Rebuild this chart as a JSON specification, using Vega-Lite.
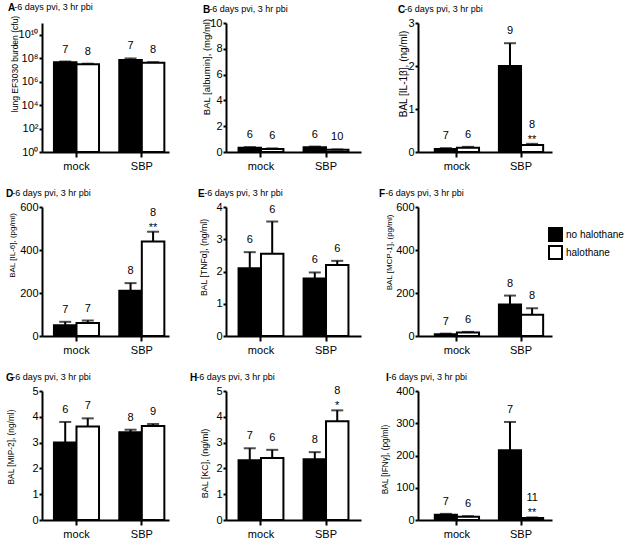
{
  "$schema": "https://vega.github.io/schema/vega-lite/v6.json",
  "background": "white",
  "padding": {"left": 5, "top": 3, "right": 5, "bottom": 2},
  "config": {
    "view": {"stroke": null},
    "font": "Liberation Sans",
    "axis": {"domainColor": "black", "domainWidth": 2, "tickColor": "black", "tickWidth": 2, "tickSize": 3, "labelColor": "black", "labelFontSize": 11, "labelFont": "Liberation Sans", "labelPadding": 1, "labelOverlap": false, "labelBound": false, "titleColor": "black", "titleFontWeight": "normal", "titleFontSize": 9, "titleFont": "Liberation Sans", "grid": false, "titleAlign": "center", "titleBaseline": "bottom", "titleAngle": -90},
    "axisX": {"labelAngle": 0, "labelPadding": 3, "tickSize": 5, "titleAngle": 0},
    "title": {"anchor": "start", "frame": "group", "fontSize": 10, "fontWeight": "bold", "font": "Liberation Sans", "color": "black", "subtitleFont": "Liberation Sans", "subtitleFontSize": 9, "subtitleColor": "black", "subtitlePadding": -10, "offset": 0, "dy": 2},
    "text": {"font": "Liberation Sans", "fontSize": 11, "color": "black"}
  },
  "data": {"values": [
    {"panel": "A", "group": "mock", "treat": "no halothane", "mean": 45000000, "top": 52000000, "n": "7", "star": ""},
    {"panel": "A", "group": "mock", "treat": "halothane", "mean": 30000000, "top": 34000000, "n": "8", "star": ""},
    {"panel": "A", "group": "SBP", "treat": "no halothane", "mean": 70000000, "top": 95000000, "n": "7", "star": ""},
    {"panel": "A", "group": "SBP", "treat": "halothane", "mean": 40000000, "top": 46000000, "n": "8", "star": ""},
    {"panel": "B", "group": "mock", "treat": "no halothane", "mean": 0.33, "top": 0.38, "n": "6", "star": ""},
    {"panel": "B", "group": "mock", "treat": "halothane", "mean": 0.24, "top": 0.28, "n": "6", "star": ""},
    {"panel": "B", "group": "SBP", "treat": "no halothane", "mean": 0.37, "top": 0.42, "n": "6", "star": ""},
    {"panel": "B", "group": "SBP", "treat": "halothane", "mean": 0.17, "top": 0.2, "n": "10", "star": ""},
    {"panel": "C", "group": "mock", "treat": "no halothane", "mean": 0.07, "top": 0.09, "n": "7", "star": ""},
    {"panel": "C", "group": "mock", "treat": "halothane", "mean": 0.1, "top": 0.12, "n": "6", "star": ""},
    {"panel": "C", "group": "SBP", "treat": "no halothane", "mean": 2.0, "top": 2.53, "n": "9", "star": ""},
    {"panel": "C", "group": "SBP", "treat": "halothane", "mean": 0.16, "top": 0.19, "n": "8", "star": "**"},
    {"panel": "D", "group": "mock", "treat": "no halothane", "mean": 50, "top": 66, "n": "7", "star": ""},
    {"panel": "D", "group": "mock", "treat": "halothane", "mean": 60, "top": 72, "n": "7", "star": ""},
    {"panel": "D", "group": "SBP", "treat": "no halothane", "mean": 210, "top": 246, "n": "8", "star": ""},
    {"panel": "D", "group": "SBP", "treat": "halothane", "mean": 440, "top": 485, "n": "8", "star": "**"},
    {"panel": "E", "group": "mock", "treat": "no halothane", "mean": 2.1, "top": 2.6, "n": "6", "star": ""},
    {"panel": "E", "group": "mock", "treat": "halothane", "mean": 2.55, "top": 3.55, "n": "6", "star": ""},
    {"panel": "E", "group": "SBP", "treat": "no halothane", "mean": 1.78, "top": 1.97, "n": "6", "star": ""},
    {"panel": "E", "group": "SBP", "treat": "halothane", "mean": 2.2, "top": 2.33, "n": "6", "star": ""},
    {"panel": "F", "group": "mock", "treat": "no halothane", "mean": 8, "top": 11, "n": "7", "star": ""},
    {"panel": "F", "group": "mock", "treat": "halothane", "mean": 16, "top": 19, "n": "6", "star": ""},
    {"panel": "F", "group": "SBP", "treat": "no halothane", "mean": 147, "top": 188, "n": "8", "star": ""},
    {"panel": "F", "group": "SBP", "treat": "halothane", "mean": 99, "top": 129, "n": "8", "star": ""},
    {"panel": "G", "group": "mock", "treat": "no halothane", "mean": 3.0, "top": 3.8, "n": "6", "star": ""},
    {"panel": "G", "group": "mock", "treat": "halothane", "mean": 3.62, "top": 3.94, "n": "7", "star": ""},
    {"panel": "G", "group": "SBP", "treat": "no halothane", "mean": 3.4, "top": 3.5, "n": "8", "star": ""},
    {"panel": "G", "group": "SBP", "treat": "halothane", "mean": 3.64, "top": 3.72, "n": "9", "star": ""},
    {"panel": "H", "group": "mock", "treat": "no halothane", "mean": 2.32, "top": 2.78, "n": "7", "star": ""},
    {"panel": "H", "group": "mock", "treat": "halothane", "mean": 2.4, "top": 2.72, "n": "6", "star": ""},
    {"panel": "H", "group": "SBP", "treat": "no halothane", "mean": 2.35, "top": 2.63, "n": "8", "star": ""},
    {"panel": "H", "group": "SBP", "treat": "halothane", "mean": 3.83, "top": 4.25, "n": "8", "star": "*"},
    {"panel": "I", "group": "mock", "treat": "no halothane", "mean": 16, "top": 19, "n": "7", "star": ""},
    {"panel": "I", "group": "mock", "treat": "halothane", "mean": 10, "top": 12, "n": "6", "star": ""},
    {"panel": "I", "group": "SBP", "treat": "no halothane", "mean": 216, "top": 304, "n": "7", "star": ""},
    {"panel": "I", "group": "SBP", "treat": "halothane", "mean": 6, "top": 8, "n": "11", "star": "**"}
  ]},
  "columns": 3,
  "spacing": {"row": 55, "column": 57},
  "bounds": "flush",
  "align": "each",
  "resolve": {"scale": {"fill": "independent", "xOffset": "independent"}, "legend": {"fill": "independent"}},
  "concat": [
    {
      "width": 127, "height": 129,
      "title": {"text": "A", "subtitle": "\u200b\u2002\u2009-6 days pvi, 3 hr pbi", "dx": -34},
      "transform": [{"filter": "datum.panel == 'A'"}],
      "encoding": {
        "x": {"field": "group", "type": "nominal", "sort": ["mock", "SBP"], "scale": {"paddingInner": 0.31, "paddingOuter": 0.127, "align": 0.72}, "axis": {"title": null}},
        "xOffset": {"field": "treat", "type": "nominal", "sort": ["no halothane", "halothane"]}
      },
      "layer": [
        {"mark": {"type": "bar", "stroke": "black", "strokeWidth": 2},
         "encoding": {
           "y": {"field": "mean", "type": "quantitative", "scale": {"type": "log", "domain": [1, 100000000000], "nice": false}, "axis": {"title": "lung EF3030 burden (cfu)", "tickCount": 20, "labelOverlap": false, "titleFontSize": 8.5, "titleX": -23, "titleY": 40.5, "values": [1, 100, 10000, 1000000, 100000000, 10000000000], "labelExpr": "datum.value >= 1e10 ? '10\u00b9\u2070' : datum.value >= 1e8 ? '10\u2078' : datum.value >= 1e6 ? '10\u2076' : datum.value >= 1e4 ? '10\u2074' : datum.value >= 100 ? '10\u00b2' : '10\u2070'"}},
           "y2": {"datum": 1},
           "fill": {"field": "treat", "type": "nominal", "scale": {"domain": ["no halothane", "halothane"], "range": ["black", "white"]}, "legend": null}
         }},
        {"mark": {"type": "rule", "strokeWidth": 2, "color": "black"}, "encoding": {"y": {"field": "mean", "type": "quantitative"}, "y2": {"field": "top"}}},
        {"mark": {"type": "tick", "thickness": 2, "size": 12, "color": "black"}, "encoding": {"y": {"field": "top", "type": "quantitative"}}},
        {"transform": [{"filter": "datum.star == ''"}], "mark": {"type": "text", "dy": -12, "baseline": "middle"}, "encoding": {"y": {"field": "top", "type": "quantitative"}, "text": {"field": "n"}}},
        {"transform": [{"filter": "datum.star != ''"}], "mark": {"type": "text", "dy": -19, "baseline": "middle"}, "encoding": {"y": {"field": "top", "type": "quantitative"}, "text": {"field": "n"}}},
        {"transform": [{"filter": "datum.star != ''"}], "mark": {"type": "text", "dy": -4, "baseline": "middle"}, "encoding": {"y": {"field": "top", "type": "quantitative"}, "text": {"field": "star"}}}
      ]
    },
    {
      "width": 135, "height": 129,
      "title": {"text": "B", "subtitle": "\u200b\u2002\u2009-6 days pvi, 3 hr pbi", "dx": -23},
      "transform": [{"filter": "datum.panel == 'B'"}],
      "encoding": {
        "x": {"field": "group", "type": "nominal", "sort": ["mock", "SBP"], "scale": {"paddingInner": 0.31, "paddingOuter": 0.193, "align": 0.5}, "axis": {"title": null}},
        "xOffset": {"field": "treat", "type": "nominal", "sort": ["no halothane", "halothane"]}
      },
      "layer": [
        {"mark": {"type": "bar", "stroke": "black", "strokeWidth": 2},
         "encoding": {
           "y": {"field": "mean", "type": "quantitative", "scale": {"domain": [0, 10], "nice": false}, "axis": {"title": "BAL [albumin], (mg/ml)", "format": "d", "tickCount": 20, "labelOverlap": false, "titleFontSize": 9.5, "titleX": -15, "titleY": 43.5, "values": [0, 2, 4, 6, 8, 10]}},
           "fill": {"field": "treat", "type": "nominal", "scale": {"domain": ["no halothane", "halothane"], "range": ["black", "white"]}, "legend": null}
         }},
        {"mark": {"type": "rule", "strokeWidth": 2, "color": "black"}, "encoding": {"y": {"field": "mean", "type": "quantitative"}, "y2": {"field": "top"}}},
        {"mark": {"type": "tick", "thickness": 2, "size": 12, "color": "black"}, "encoding": {"y": {"field": "top", "type": "quantitative"}}},
        {"transform": [{"filter": "datum.star == ''"}], "mark": {"type": "text", "dy": -12, "baseline": "middle"}, "encoding": {"y": {"field": "top", "type": "quantitative"}, "text": {"field": "n"}}},
        {"transform": [{"filter": "datum.star != ''"}], "mark": {"type": "text", "dy": -19, "baseline": "middle"}, "encoding": {"y": {"field": "top", "type": "quantitative"}, "text": {"field": "n"}}},
        {"transform": [{"filter": "datum.star != ''"}], "mark": {"type": "text", "dy": -4, "baseline": "middle"}, "encoding": {"y": {"field": "top", "type": "quantitative"}, "text": {"field": "star"}}}
      ]
    },
    {
      "width": 134, "height": 129,
      "title": {"text": "C", "subtitle": "\u200b\u2002\u2009-6 days pvi, 3 hr pbi", "dx": -20},
      "transform": [{"filter": "datum.panel == 'C'"}],
      "encoding": {
        "x": {"field": "group", "type": "nominal", "sort": ["mock", "SBP"], "scale": {"paddingInner": 0.31, "paddingOuter": 0.2, "align": 0.655}, "axis": {"title": null}},
        "xOffset": {"field": "treat", "type": "nominal", "sort": ["no halothane", "halothane"]}
      },
      "layer": [
        {"mark": {"type": "bar", "stroke": "black", "strokeWidth": 2},
         "encoding": {
           "y": {"field": "mean", "type": "quantitative", "scale": {"domain": [0, 3], "nice": false}, "axis": {"title": "BAL [IL-1\u03b2], (ng/ml)", "format": "d", "tickCount": 20, "labelOverlap": false, "titleFontSize": 10, "titleX": -10, "titleY": 50.5, "values": [0, 1, 2, 3]}},
           "fill": {"field": "treat", "type": "nominal", "scale": {"domain": ["no halothane", "halothane"], "range": ["black", "white"]}, "legend": null}
         }},
        {"mark": {"type": "rule", "strokeWidth": 2, "color": "black"}, "encoding": {"y": {"field": "mean", "type": "quantitative"}, "y2": {"field": "top"}}},
        {"mark": {"type": "tick", "thickness": 2, "size": 12, "color": "black"}, "encoding": {"y": {"field": "top", "type": "quantitative"}}},
        {"transform": [{"filter": "datum.star == ''"}], "mark": {"type": "text", "dy": -12, "baseline": "middle"}, "encoding": {"y": {"field": "top", "type": "quantitative"}, "text": {"field": "n"}}},
        {"transform": [{"filter": "datum.star != ''"}], "mark": {"type": "text", "dy": -19, "baseline": "middle"}, "encoding": {"y": {"field": "top", "type": "quantitative"}, "text": {"field": "n"}}},
        {"transform": [{"filter": "datum.star != ''"}], "mark": {"type": "text", "dy": -4, "baseline": "middle"}, "encoding": {"y": {"field": "top", "type": "quantitative"}, "text": {"field": "star"}}}
      ]
    },
    {
      "width": 127, "height": 129,
      "title": {"text": "D", "subtitle": "\u200b\u2002\u2009-6 days pvi, 3 hr pbi", "dx": -36},
      "transform": [{"filter": "datum.panel == 'D'"}],
      "encoding": {
        "x": {"field": "group", "type": "nominal", "sort": ["mock", "SBP"], "scale": {"paddingInner": 0.31, "paddingOuter": 0.127, "align": 0.72}, "axis": {"title": null}},
        "xOffset": {"field": "treat", "type": "nominal", "sort": ["no halothane", "halothane"]}
      },
      "layer": [
        {"mark": {"type": "bar", "stroke": "black", "strokeWidth": 2},
         "encoding": {
           "y": {"field": "mean", "type": "quantitative", "scale": {"domain": [0, 600], "nice": false}, "axis": {"title": "BAL [IL-6], (pg/ml)", "format": "d", "tickCount": 20, "labelOverlap": false, "titleFontSize": 8, "titleX": -26, "titleY": 38, "values": [0, 200, 400, 600]}},
           "fill": {"field": "treat", "type": "nominal", "scale": {"domain": ["no halothane", "halothane"], "range": ["black", "white"]}, "legend": null}
         }},
        {"mark": {"type": "rule", "strokeWidth": 2, "color": "black"}, "encoding": {"y": {"field": "mean", "type": "quantitative"}, "y2": {"field": "top"}}},
        {"mark": {"type": "tick", "thickness": 2, "size": 12, "color": "black"}, "encoding": {"y": {"field": "top", "type": "quantitative"}}},
        {"transform": [{"filter": "datum.star == ''"}], "mark": {"type": "text", "dy": -12, "baseline": "middle"}, "encoding": {"y": {"field": "top", "type": "quantitative"}, "text": {"field": "n"}}},
        {"transform": [{"filter": "datum.star != ''"}], "mark": {"type": "text", "dy": -19, "baseline": "middle"}, "encoding": {"y": {"field": "top", "type": "quantitative"}, "text": {"field": "n"}}},
        {"transform": [{"filter": "datum.star != ''"}], "mark": {"type": "text", "dy": -4, "baseline": "middle"}, "encoding": {"y": {"field": "top", "type": "quantitative"}, "text": {"field": "star"}}}
      ]
    },
    {
      "width": 135, "height": 129,
      "title": {"text": "E", "subtitle": "\u200b\u2002\u2009-6 days pvi, 3 hr pbi", "dx": -28},
      "transform": [{"filter": "datum.panel == 'E'"}],
      "encoding": {
        "x": {"field": "group", "type": "nominal", "sort": ["mock", "SBP"], "scale": {"paddingInner": 0.31, "paddingOuter": 0.193, "align": 0.5}, "axis": {"title": null}},
        "xOffset": {"field": "treat", "type": "nominal", "sort": ["no halothane", "halothane"]}
      },
      "layer": [
        {"mark": {"type": "bar", "stroke": "black", "strokeWidth": 2},
         "encoding": {
           "y": {"field": "mean", "type": "quantitative", "scale": {"domain": [0, 4], "nice": false}, "axis": {"title": "BAL [TNF\u03b1], (ng/ml)", "format": "d", "tickCount": 20, "labelOverlap": false, "titleFontSize": 8.7, "titleX": -18, "titleY": 50, "values": [0, 1, 2, 3, 4]}},
           "fill": {"field": "treat", "type": "nominal", "scale": {"domain": ["no halothane", "halothane"], "range": ["black", "white"]}, "legend": null}
         }},
        {"mark": {"type": "rule", "strokeWidth": 2, "color": "black"}, "encoding": {"y": {"field": "mean", "type": "quantitative"}, "y2": {"field": "top"}}},
        {"mark": {"type": "tick", "thickness": 2, "size": 12, "color": "black"}, "encoding": {"y": {"field": "top", "type": "quantitative"}}},
        {"transform": [{"filter": "datum.star == ''"}], "mark": {"type": "text", "dy": -12, "baseline": "middle"}, "encoding": {"y": {"field": "top", "type": "quantitative"}, "text": {"field": "n"}}},
        {"transform": [{"filter": "datum.star != ''"}], "mark": {"type": "text", "dy": -19, "baseline": "middle"}, "encoding": {"y": {"field": "top", "type": "quantitative"}, "text": {"field": "n"}}},
        {"transform": [{"filter": "datum.star != ''"}], "mark": {"type": "text", "dy": -4, "baseline": "middle"}, "encoding": {"y": {"field": "top", "type": "quantitative"}, "text": {"field": "star"}}}
      ]
    },
    {
      "width": 134, "height": 129,
      "title": {"text": "F", "subtitle": "\u200b\u2002\u2009-6 days pvi, 3 hr pbi", "dx": -39},
      "transform": [{"filter": "datum.panel == 'F'"}],
      "encoding": {
        "x": {"field": "group", "type": "nominal", "sort": ["mock", "SBP"], "scale": {"paddingInner": 0.31, "paddingOuter": 0.2, "align": 0.655}, "axis": {"title": null}},
        "xOffset": {"field": "treat", "type": "nominal", "sort": ["no halothane", "halothane"]}
      },
      "layer": [
        {"mark": {"type": "bar", "stroke": "black", "strokeWidth": 2},
         "encoding": {
           "y": {"field": "mean", "type": "quantitative", "scale": {"domain": [0, 600], "nice": false}, "axis": {"title": "BAL [MCP-1], (pg/ml)", "format": "d", "tickCount": 20, "labelOverlap": false, "titleFontSize": 8, "titleX": -25, "titleY": 45, "values": [0, 200, 400, 600]}},
           "fill": {"field": "treat", "type": "nominal", "scale": {"domain": ["no halothane", "halothane"], "range": ["black", "white"]}, "legend": {"orient": "none", "legendX": 130, "legendY": 20, "title": null, "padding": 0, "symbolType": "square", "symbolSize": 169, "symbolStrokeColor": "black", "symbolStrokeWidth": 2, "labelFont": "Liberation Sans", "labelFontSize": 10, "labelColor": "black", "labelOffset": 3, "rowPadding": -5}}
         }},
        {"mark": {"type": "rule", "strokeWidth": 2, "color": "black"}, "encoding": {"y": {"field": "mean", "type": "quantitative"}, "y2": {"field": "top"}}},
        {"mark": {"type": "tick", "thickness": 2, "size": 12, "color": "black"}, "encoding": {"y": {"field": "top", "type": "quantitative"}}},
        {"transform": [{"filter": "datum.star == ''"}], "mark": {"type": "text", "dy": -12, "baseline": "middle"}, "encoding": {"y": {"field": "top", "type": "quantitative"}, "text": {"field": "n"}}},
        {"transform": [{"filter": "datum.star != ''"}], "mark": {"type": "text", "dy": -19, "baseline": "middle"}, "encoding": {"y": {"field": "top", "type": "quantitative"}, "text": {"field": "n"}}},
        {"transform": [{"filter": "datum.star != ''"}], "mark": {"type": "text", "dy": -4, "baseline": "middle"}, "encoding": {"y": {"field": "top", "type": "quantitative"}, "text": {"field": "star"}}}
      ]
    },
    {
      "width": 127, "height": 129,
      "title": {"text": "G", "subtitle": "\u200b\u2002\u2009-6 days pvi, 3 hr pbi", "dx": -36},
      "transform": [{"filter": "datum.panel == 'G'"}],
      "encoding": {
        "x": {"field": "group", "type": "nominal", "sort": ["mock", "SBP"], "scale": {"paddingInner": 0.31, "paddingOuter": 0.127, "align": 0.72}, "axis": {"title": null}},
        "xOffset": {"field": "treat", "type": "nominal", "sort": ["no halothane", "halothane"]}
      },
      "layer": [
        {"mark": {"type": "bar", "stroke": "black", "strokeWidth": 2},
         "encoding": {
           "y": {"field": "mean", "type": "quantitative", "scale": {"domain": [0, 5], "nice": false}, "axis": {"title": "BAL [MIP-2], (ng/ml)", "format": "d", "tickCount": 20, "labelOverlap": false, "titleFontSize": 8.3, "titleX": -27, "titleY": 55.5, "values": [0, 1, 2, 3, 4, 5]}},
           "fill": {"field": "treat", "type": "nominal", "scale": {"domain": ["no halothane", "halothane"], "range": ["black", "white"]}, "legend": null}
         }},
        {"mark": {"type": "rule", "strokeWidth": 2, "color": "black"}, "encoding": {"y": {"field": "mean", "type": "quantitative"}, "y2": {"field": "top"}}},
        {"mark": {"type": "tick", "thickness": 2, "size": 12, "color": "black"}, "encoding": {"y": {"field": "top", "type": "quantitative"}}},
        {"transform": [{"filter": "datum.star == ''"}], "mark": {"type": "text", "dy": -12, "baseline": "middle"}, "encoding": {"y": {"field": "top", "type": "quantitative"}, "text": {"field": "n"}}},
        {"transform": [{"filter": "datum.star != ''"}], "mark": {"type": "text", "dy": -19, "baseline": "middle"}, "encoding": {"y": {"field": "top", "type": "quantitative"}, "text": {"field": "n"}}},
        {"transform": [{"filter": "datum.star != ''"}], "mark": {"type": "text", "dy": -4, "baseline": "middle"}, "encoding": {"y": {"field": "top", "type": "quantitative"}, "text": {"field": "star"}}}
      ]
    },
    {
      "width": 135, "height": 129,
      "title": {"text": "H", "subtitle": "\u200b\u2002\u2009-6 days pvi, 3 hr pbi", "dx": -36},
      "transform": [{"filter": "datum.panel == 'H'"}],
      "encoding": {
        "x": {"field": "group", "type": "nominal", "sort": ["mock", "SBP"], "scale": {"paddingInner": 0.31, "paddingOuter": 0.193, "align": 0.5}, "axis": {"title": null}},
        "xOffset": {"field": "treat", "type": "nominal", "sort": ["no halothane", "halothane"]}
      },
      "layer": [
        {"mark": {"type": "bar", "stroke": "black", "strokeWidth": 2},
         "encoding": {
           "y": {"field": "mean", "type": "quantitative", "scale": {"domain": [0, 5], "nice": false}, "axis": {"title": "BAL [KC], (ng/ml)", "format": "d", "tickCount": 20, "labelOverlap": false, "titleFontSize": 9, "titleX": -17, "titleY": 72, "values": [0, 1, 2, 3, 4, 5]}},
           "fill": {"field": "treat", "type": "nominal", "scale": {"domain": ["no halothane", "halothane"], "range": ["black", "white"]}, "legend": null}
         }},
        {"mark": {"type": "rule", "strokeWidth": 2, "color": "black"}, "encoding": {"y": {"field": "mean", "type": "quantitative"}, "y2": {"field": "top"}}},
        {"mark": {"type": "tick", "thickness": 2, "size": 12, "color": "black"}, "encoding": {"y": {"field": "top", "type": "quantitative"}}},
        {"transform": [{"filter": "datum.star == ''"}], "mark": {"type": "text", "dy": -12, "baseline": "middle"}, "encoding": {"y": {"field": "top", "type": "quantitative"}, "text": {"field": "n"}}},
        {"transform": [{"filter": "datum.star != ''"}], "mark": {"type": "text", "dy": -19, "baseline": "middle"}, "encoding": {"y": {"field": "top", "type": "quantitative"}, "text": {"field": "n"}}},
        {"transform": [{"filter": "datum.star != ''"}], "mark": {"type": "text", "dy": -4, "baseline": "middle"}, "encoding": {"y": {"field": "top", "type": "quantitative"}, "text": {"field": "star"}}}
      ]
    },
    {
      "width": 134, "height": 129,
      "title": {"text": "I", "subtitle": "\u200b\u2009\u200a-6 days pvi, 3 hr pbi", "dx": -32},
      "transform": [{"filter": "datum.panel == 'I'"}],
      "encoding": {
        "x": {"field": "group", "type": "nominal", "sort": ["mock", "SBP"], "scale": {"paddingInner": 0.31, "paddingOuter": 0.2, "align": 0.655}, "axis": {"title": null}},
        "xOffset": {"field": "treat", "type": "nominal", "sort": ["no halothane", "halothane"]}
      },
      "layer": [
        {"mark": {"type": "bar", "stroke": "black", "strokeWidth": 2},
         "encoding": {
           "y": {"field": "mean", "type": "quantitative", "scale": {"domain": [0, 400], "nice": false}, "axis": {"title": "BAL [IFN\u03b3], (pg/ml)", "format": "d", "tickCount": 20, "labelOverlap": false, "titleFontSize": 8.2, "titleX": -29, "titleY": 68, "values": [0, 100, 200, 300, 400]}},
           "fill": {"field": "treat", "type": "nominal", "scale": {"domain": ["no halothane", "halothane"], "range": ["black", "white"]}, "legend": null}
         }},
        {"mark": {"type": "rule", "strokeWidth": 2, "color": "black"}, "encoding": {"y": {"field": "mean", "type": "quantitative"}, "y2": {"field": "top"}}},
        {"mark": {"type": "tick", "thickness": 2, "size": 12, "color": "black"}, "encoding": {"y": {"field": "top", "type": "quantitative"}}},
        {"transform": [{"filter": "datum.star == ''"}], "mark": {"type": "text", "dy": -12, "baseline": "middle"}, "encoding": {"y": {"field": "top", "type": "quantitative"}, "text": {"field": "n"}}},
        {"transform": [{"filter": "datum.star != ''"}], "mark": {"type": "text", "dy": -19, "baseline": "middle"}, "encoding": {"y": {"field": "top", "type": "quantitative"}, "text": {"field": "n"}}},
        {"transform": [{"filter": "datum.star != ''"}], "mark": {"type": "text", "dy": -4, "baseline": "middle"}, "encoding": {"y": {"field": "top", "type": "quantitative"}, "text": {"field": "star"}}}
      ]
    }
  ]
}
